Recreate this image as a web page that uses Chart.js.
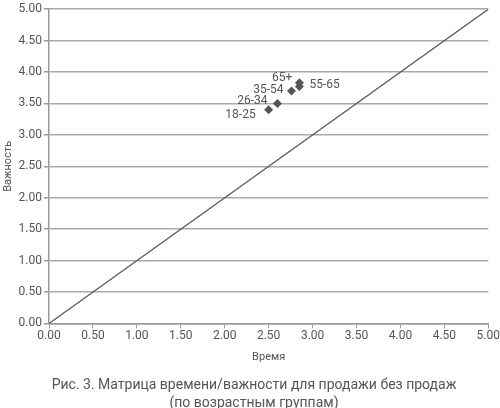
<!DOCTYPE html>
<html>
<head>
<meta charset="utf-8">
<script src="https://cdn.jsdelivr.net/npm/chart.js@4"></script>
<style>
  html, body { margin: 0; padding: 0; background: #fff; }
  #wrap { width: 500px; height: 408px; }
</style>
</head>
<body>
<div id="wrap"><canvas id="scatter-chart"></canvas></div>
<script>
// data
const groups = ["18-25", "26-34", "35-54", "55-65", "65+"];
const timeValues = [2.5, 2.6, 2.76, 2.85, 2.85];
const importanceValues = [3.4, 3.5, 3.7, 3.77, 3.83];
const diagonalX = [0, 5];
const diagonalY = [0, 5];
const captionLines = ["Рис. 3. Матрица времени/важности для продажи без продаж", "(по возрастным группам)"];

// where each label sits relative to its point (px)
const labelPlace = {
    "18-25": { dx: -13, dy: 5, align: "right" },
    "26-34": { dx: -10, dy: -2, align: "right" },
    "35-54": { dx: -8, dy: -1, align: "right" },
    "55-65": { dx: 10, dy: -1, align: "left" },
    "65+":   { dx: -7, dy: -5, align: "right" }
};

const ink = "#555555";
const font = "Roboto";

const pointLabels = {
    id: "pointLabels",
    afterDatasetsDraw(chart) {
        const ctx = chart.ctx;
        const meta = chart.getDatasetMeta(1);
        ctx.save();
        ctx.font = "12px " + font;
        ctx.fillStyle = ink;
        ctx.textBaseline = "middle";
        meta.data.forEach((pt, i) => {
            const p = labelPlace[groups[i]];
            ctx.textAlign = p.align;
            ctx.fillText(groups[i], pt.x + p.dx, pt.y + p.dy);
        });
        ctx.restore();
    }
};

new Chart(document.getElementById("scatter-chart"), {
    type: "scatter",
    data: {
        datasets: [{
            type: "line",
            data: diagonalX.map((x, i) => ({ x: x, y: diagonalY[i] })),
            borderColor: ink,
            borderWidth: 1.2,
            pointRadius: 0,
            fill: false
        }, {
            data: timeValues.map((x, i) => ({ x: x, y: importanceValues[i] })),
            pointStyle: "rectRot",
            pointRadius: 4.5,
            backgroundColor: ink,
            borderColor: ink,
            borderWidth: 0
        }]
    },
    plugins: [pointLabels],
    options: {
        responsive: true,
        maintainAspectRatio: false,
        animation: false,
        layout: { padding: { top: -2, right: -6, left: 2, bottom: -4 } },
        plugins: {
            legend: { display: false },
            tooltip: { enabled: false },
            title: {
                display: true,
                position: "bottom",
                text: captionLines,
                color: ink,
                font: { family: font, size: 14, weight: "normal", lineHeight: 1.25 },
                padding: { top: 13, bottom: 0 }
            }
        },
        scales: {
            x: {
                min: 0, max: 5,
                ticks: {
                    stepSize: 0.5,
                    color: ink,
                    font: { family: font, size: 12 },
                    padding: 0,
                    callback: v => v.toFixed(2)
                },
                grid: { drawOnChartArea: false, color: "#999", tickLength: 5, tickColor: "#999" },
                border: { color: "#999", width: 1.5 },
                title: {
                    display: true,
                    text: "Время",
                    color: ink,
                    font: { family: font, size: 11 },
                    padding: { top: 8, bottom: 0 }
                }
            },
            y: {
                min: 0, max: 5,
                afterFit(scale) { scale.width = 47; },
                ticks: {
                    stepSize: 0.5,
                    color: ink,
                    font: { family: font, size: 12 },
                    padding: 2,
                    callback: v => v.toFixed(2)
                },
                grid: { color: "#aaa", lineWidth: 1.5, tickLength: 5, tickColor: "#999" },
                border: { color: "#999", width: 1.5 },
                title: {
                    display: true,
                    text: "Важность",
                    color: ink,
                    font: { family: font, size: 11 },
                    padding: { top: 0, bottom: 0 }
                }
            }
        }
    }
});
</script>
</body>
</html>
